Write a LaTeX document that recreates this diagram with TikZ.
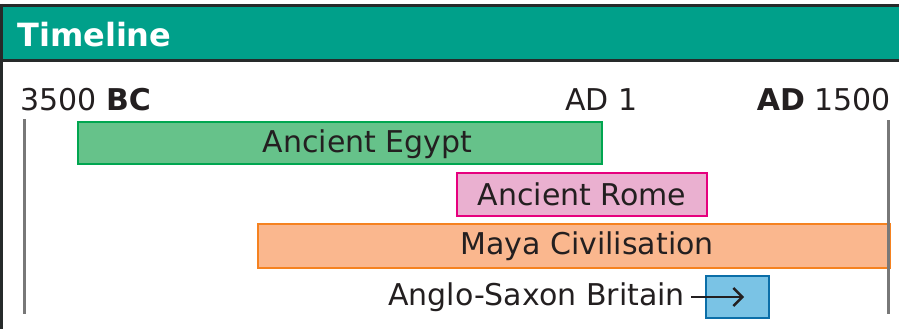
\documentclass[tikz,border=0pt]{standalone}
\usepackage{fontspec}
\setmainfont{DejaVu Sans}
\usetikzlibrary{arrows.meta}
\definecolor{teal}{RGB}{0,160,138}
\definecolor{frame}{RGB}{38,42,42}
\definecolor{txt}{RGB}{35,31,32}
\definecolor{egfill}{RGB}{102,194,138}
\definecolor{egline}{RGB}{0,166,80}
\definecolor{rofill}{RGB}{234,176,208}
\definecolor{roline}{RGB}{230,0,126}
\definecolor{mafill}{RGB}{250,183,142}
\definecolor{maline}{RGB}{245,130,32}
\definecolor{asfill}{RGB}{122,195,229}
\definecolor{asline}{RGB}{11,110,168}
\definecolor{axis}{RGB}{120,120,120}
\tikzset{
  bar/.style={draw, line width=2.5pt, inner sep=0pt, text=txt,
    font=\fontsize{30}{36}\selectfont, anchor=center},
  lbl/.style={text=txt, inner sep=0pt, font=\fontsize{30}{36}\selectfont},
  axisline/.style={draw=axis, line width=3pt}
}
\begin{document}
\begin{tikzpicture}[x=1pt,y=-1pt]
\useasboundingbox (0,0) rectangle (899,329);
% header
\fill[teal] (0,5) rectangle (899,60);
\draw[frame, line width=3pt] (0,5.5) -- (899,5.5);
\draw[frame, line width=3pt] (0,60.5) -- (899,60.5);
\draw[frame, line width=3pt] (1,4) -- (1,329);
\node[anchor=base west, inner sep=0pt, text=white, font=\fontsize{32}{38}\selectfont\bfseries] (title) at (17,47) {Timeline};
% axis labels
\node[lbl, anchor=base west] (l1) at (20,110) {3500 \textbf{BC}};
\node[lbl, anchor=base west] (l2) at (565,110) {AD 1};
\node[lbl, anchor=base east] (l3) at (891,110) {\textbf{AD} 1500};
% axis lines
\coordinate (a1) at (24.5,119);
\coordinate (a2) at (24.5,314);
\coordinate (b1) at (888.5,120);
\coordinate (b2) at (888.5,314);
\draw[axisline] (a1) -- (a2);
% bars
\node[bar, fill=egfill, draw=egline, minimum width=524pt, minimum height=42pt] (egypt) at (340,143) {};
\node[lbl] (egtext) at (367.5,144) {Ancient Egypt};
\node[bar, fill=rofill, draw=roline, minimum width=250pt, minimum height=43pt] (rome) at (582,194.5) {Ancient Rome};
\node[bar, fill=mafill, draw=maline, minimum width=632pt, minimum height=44pt] (maya) at (574,246) {};
\node[lbl] (matext) at (587,246.5) {Maya Civilisation};
\node[bar, fill=asfill, draw=asline, minimum width=63pt, minimum height=42pt] (as) at (737.5,297) {};
\draw[axisline] (b1) -- (b2);
\node[lbl, anchor=east] (astext) at (685,297) {Anglo-Saxon Britain};
\coordinate (arrstart) at (691,297);
\coordinate (arrend) at (744,297);
\draw[txt, line width=2.4pt, -{Straight Barb[length=9pt,width=18pt]}] (arrstart) -- (arrend);
\end{tikzpicture}
\end{document}
